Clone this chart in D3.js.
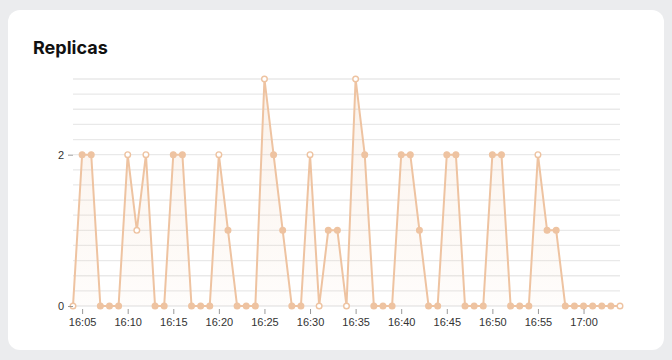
<!DOCTYPE html>
<html>
<head>
<meta charset="utf-8">
<script src="https://cdn.jsdelivr.net/npm/d3@7"></script>
<style>
  html, body { margin: 0; padding: 0; background: #ebecee; }
  #card {
    position: absolute; left: 8px; top: 10px; width: 656px; height: 340px;
    background: #fff; border-radius: 12px;
  }
  svg { position: absolute; left: 0; top: 0; }
</style>
</head>
<body>
<div id="card"></div>
<div id="d3-container"></div>
<script>
// one sample per minute, 16:04 -> 17:04
const startTime = '16:04'
const replicas = [0, 2, 2, 0, 0, 0, 2, 1, 2, 0, 0, 2, 2, 0, 0, 0, 2, 1, 0, 0, 0, 3, 2, 1, 0, 0, 2, 0, 1, 1, 0, 3, 2, 0, 0, 0, 2, 2, 1, 0, 0, 2, 2, 0, 0, 0, 2, 2, 0, 0, 0, 2, 1, 1, 0, 0, 0, 0, 0, 0, 0]
const yTickLabels = [0, 2]
const gridSteps = d3.range(0, 3.01, 0.2)

const width = 672
const height = 360
const margin = { top: 79, bottom: 54, left: 73, right: 52 }

const parse = d3.timeParse('%H:%M')
const t0 = parse(startTime)
const data = replicas.map((v, i) => ({ t: d3.timeMinute.offset(t0, i), v }))

const svg = d3.select('#d3-container')
    .append('svg')
    .attr('width', width)
    .attr('height', height)

svg.append('text')
    .attr('x', 33)
    .attr('y', 54)
    .attr('font-family', 'Inter, "Liberation Sans", sans-serif')
    .attr('font-weight', 700)
    .attr('font-size', '18px')
    .attr('fill', '#111')
    .text('Replicas')

const x = d3.scaleTime()
    .domain(d3.extent(data, d => d.t))
    .range([margin.left, width - margin.right])

const y = d3.scaleLinear()
    .domain([0, 3])
    .range([height - margin.bottom, margin.top])

// grid
svg.append('g')
    .selectAll('line')
    .data(gridSteps)
    .join('line')
        .attr('x1', margin.left)
        .attr('x2', width - margin.right)
        .attr('y1', d => y(d))
        .attr('y2', d => y(d))
        .attr('stroke', '#e9e9e9')
        .attr('stroke-width', 1.3)

const defs = svg.append('defs')
const grad = defs.append('linearGradient')
    .attr('id', 'fade')
    .attr('x1', 0).attr('y1', 0).attr('x2', 0).attr('y2', 1)
grad.append('stop').attr('offset', '0%').attr('stop-color', '#eec3a1').attr('stop-opacity', 0.22)
grad.append('stop').attr('offset', '100%').attr('stop-color', '#eec3a1').attr('stop-opacity', 0.04)

const area = d3.area()
    .x(d => x(d.t))
    .y0(y(0))
    .y1(d => y(d.v))

const line = d3.line()
    .x(d => x(d.t))
    .y(d => y(d.v))

svg.append('path')
    .datum(data)
    .attr('d', area)
    .attr('fill', 'url(#fade)')

svg.append('path')
    .datum(data)
    .attr('d', line)
    .attr('fill', 'none')
    .attr('stroke', '#eec3a1')
    .attr('stroke-width', 2)

// peaks, valleys and ends show as hollow rings
function hollow(i) {
    if (i === 0 || i === data.length - 1) return true
    const a = data[i - 1].v, b = data[i].v, c = data[i + 1].v
    return (b > a && b > c) || (b < a && b < c)
}

svg.append('g')
    .selectAll('circle')
    .data(data)
    .join('circle')
        .attr('cx', d => x(d.t))
        .attr('cy', d => y(d.v))
        .attr('r', 2.8)
        .attr('fill', (d, i) => hollow(i) ? '#fff' : '#eec3a1')
        .attr('stroke', '#eec3a1')
        .attr('stroke-width', 1.4)

function yAxis(g) {
    g.attr('transform', `translate(${margin.left}, 0)`)
        .call(d3.axisLeft(y).tickValues(yTickLabels).tickFormat(d3.format('d')).tickSize(5).tickPadding(4))
        .attr('font-size', '11px')
        .attr('font-family', '"Liberation Sans", Arial, sans-serif')
    g.select('.domain').remove()
    g.selectAll('.tick line').attr('stroke', '#999')
    g.selectAll('.tick text').attr('fill', '#333')
}

function xAxis(g) {
    g.attr('transform', `translate(0,${height - margin.bottom + 3})`)
        .call(d3.axisBottom(x).ticks(d3.timeMinute.every(5)).tickFormat(d3.timeFormat('%H:%M')).tickSize(5).tickPadding(4))
        .attr('font-size', '11px')
        .attr('font-family', '"Liberation Sans", Arial, sans-serif')
    g.select('.domain').remove()
    g.selectAll('.tick line').attr('stroke', '#999')
    g.selectAll('.tick text').attr('fill', '#333')
}

svg.append('g').call(xAxis)
svg.append('g').call(yAxis)
</script>
</body>
</html>
